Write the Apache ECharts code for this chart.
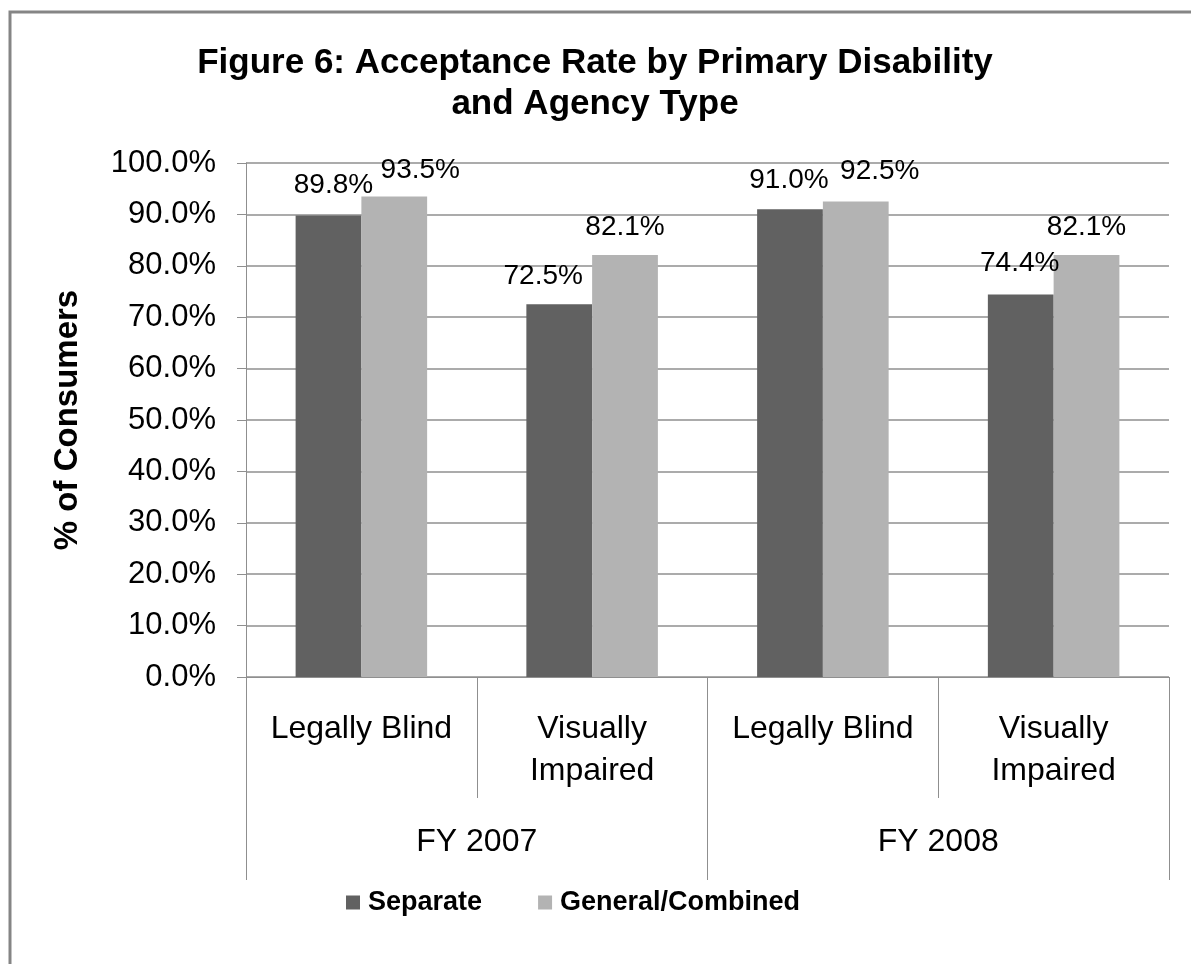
<!DOCTYPE html>
<html>
<head>
<meta charset="utf-8">
<title>Acceptance Rate by Primary Disability and Agency Type</title>
<script src="https://cdn.jsdelivr.net/npm/echarts@6/dist/echarts.min.js"></script>
<style>
  html, body { margin: 0; padding: 0; background: #ffffff; }
  #chart { width: 1191px; height: 964px; }
</style>
</head>
<body>
<div id="chart"></div>
<script>
// Inner (disability) and outer (fiscal year) category levels
const disabilities = ['Legally Blind', 'Visually\nImpaired', 'Legally Blind', 'Visually\nImpaired'];
const fiscalYears = ['FY 2007', 'FY 2008'];

// Acceptance rate (% of consumers) by agency type
const separateRates = [89.8, 72.5, 91.0, 74.4];
const generalCombinedRates = [93.5, 82.1, 92.5, 82.1];

// Value axis range
const yMin = 0;
const yMax = 100;
const yStep = 10;

// Nudges for value labels that would otherwise collide
const separateLabelShift = [[5, -2], [-16, 0], [-1, -1], [-1, -3]];
const generalLabelShift = [[26, 2], [0, 0], [24, -2], [0, 0]];

const FONT = "'Liberation Sans', Arial, Helvetica, sans-serif";
const GRID_GRAY = '#8f8f8f';

function pct(v) { return v.toFixed(1) + '%'; }

function withLabels(values, shifts) {
  return values.map(function (v, i) {
    return { value: v, label: { offset: shifts[i] } };
  });
}

const labelStyle = {
  show: true,
  position: 'top',
  distance: 14,
  fontFamily: FONT,
  fontSize: 28,
  color: '#000',
  formatter: function (p) { return pct(p.value); }
};

const chart = echarts.init(document.getElementById('chart'), null, { renderer: 'canvas' });

chart.setOption({
  backgroundColor: '#ffffff',
  animation: false,
  title: {
    text: 'Figure 6: Acceptance Rate by Primary Disability\nand Agency Type',
    left: 590,
    top: 38,
    textAlign: 'center',
    textStyle: {
      fontFamily: FONT,
      fontSize: 35,
      fontWeight: 'bold',
      color: '#000',
      lineHeight: 41
    }
  },
  graphic: [{
    type: 'rect',
    silent: true,
    shape: { x: 10, y: 12, width: 1300, height: 1100 },
    style: { fill: 'none', stroke: '#858585', lineWidth: 3 }
  }],
  legend: {
    data: ['Separate', 'General/Combined'],
    left: 341,
    top: 884,
    icon: 'rect',
    itemWidth: 14,
    itemHeight: 14,
    itemGap: 56,
    textStyle: {
      fontFamily: FONT,
      fontSize: 27,
      fontWeight: 'bold',
      color: '#000',
      padding: [0, 0, 0, 3]
    }
  },
  grid: { left: 246, right: 22, top: 163, bottom: 287 },
  xAxis: [{
    type: 'category',
    data: disabilities,
    position: 'bottom',
    axisLine: { show: true, lineStyle: { color: GRID_GRAY, width: 1 } },
    axisTick: { show: true, length: 121, interval: 0, lineStyle: { color: GRID_GRAY, width: 1 } },
    axisLabel: {
      interval: 0,
      margin: 31,
      fontFamily: FONT,
      fontSize: 32,
      lineHeight: 42,
      color: '#000',
      verticalAlign: 'top'
    }
  }, {
    type: 'category',
    data: fiscalYears,
    position: 'bottom',
    offset: 0,
    axisLine: { show: false },
    axisTick: { show: true, length: 203, interval: 0, lineStyle: { color: GRID_GRAY, width: 1 } },
    axisLabel: {
      interval: 0,
      margin: 144,
      fontFamily: FONT,
      fontSize: 32,
      lineHeight: 42,
      color: '#000',
      verticalAlign: 'top'
    }
  }],
  yAxis: {
    type: 'value',
    min: yMin,
    max: yMax,
    interval: yStep,
    name: '% of Consumers',
    nameLocation: 'middle',
    nameGap: 162,
    nameTextStyle: {
      fontFamily: FONT,
      fontSize: 33,
      fontWeight: 'bold',
      color: '#000'
    },
    axisLine: { show: true, lineStyle: { color: GRID_GRAY, width: 1 } },
    axisTick: { show: true, length: 9, inside: false, lineStyle: { color: GRID_GRAY, width: 1 } },
    splitLine: { show: true, lineStyle: { color: GRID_GRAY, width: 1.5 } },
    axisLabel: {
      margin: 30,
      fontFamily: FONT,
      fontSize: 31,
      color: '#000',
      formatter: function (v) { return pct(v); }
    }
  },
  series: [{
    name: 'Separate',
    type: 'bar',
    xAxisIndex: 0,
    barGap: '0%',
    barCategoryGap: '43%',
    itemStyle: { color: '#616161' },
    label: labelStyle,
    data: withLabels(separateRates, separateLabelShift)
  }, {
    name: 'General/Combined',
    type: 'bar',
    xAxisIndex: 0,
    barGap: '0%',
    barCategoryGap: '43%',
    itemStyle: { color: '#b3b3b3' },
    label: labelStyle,
    data: withLabels(generalCombinedRates, generalLabelShift)
  }]
});
</script>
</body>
</html>
